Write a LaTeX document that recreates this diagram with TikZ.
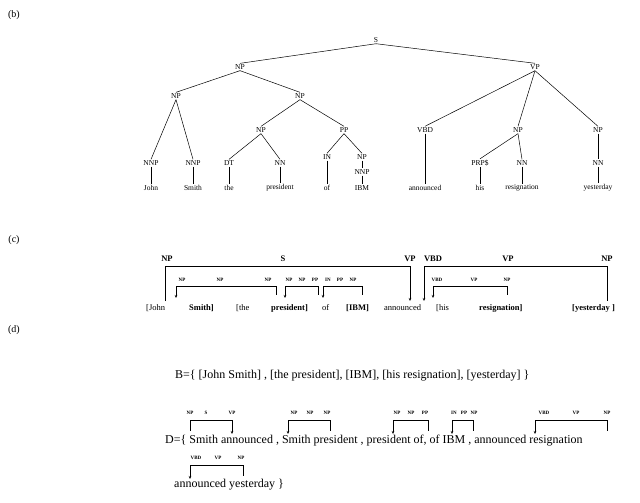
\documentclass[tikz,border=0pt]{standalone}
\usepackage{fontspec}
\setmainfont{Liberation Serif}
\usetikzlibrary{arrows.meta}
\begin{document}
\begin{tikzpicture}[x=1pt,y=-1pt,
  tl/.style={font=\fontsize{7.5}{8}\selectfont,inner sep=1pt},
  wd/.style={font=\fontsize{7.5}{8}\selectfont,inner sep=1pt},
  big/.style={font=\fontsize{8.5}{9}\selectfont\bfseries,inner sep=1pt},
  sm/.style={font=\fontsize{5}{6}\selectfont\bfseries,inner sep=0.5pt},
  txt/.style={font=\fontsize{12}{14}\selectfont,inner sep=0pt,anchor=west},
  ct/.style={font=\fontsize{8.5}{10}\selectfont,inner sep=0pt,anchor=west},
  ln/.style={line width=0.5pt},
  arr/.style={line width=0.5pt,-{Stealth[length=3pt,width=2.5pt]}}]
\useasboundingbox (0,0) rectangle (640,503);
\node[font=\fontsize{10}{12}\selectfont] (lb) at (14,15) {(b)};
\node[font=\fontsize{10}{12}\selectfont] (lc) at (14,240) {(c)};
\node[font=\fontsize{10}{12}\selectfont] (ld) at (14,330) {(d)};
% tree
\node[tl] (S) at (376,40) {S};
\node[tl] (NP1) at (240,67) {NP};
\node[tl] (VP1) at (535,67) {VP};
\node[tl] (NP2) at (176,96) {NP};
\node[tl] (NP3) at (300,96) {NP};
\node[tl] (NNP1) at (151,163) {NNP};
\node[tl] (NNP2) at (193,163) {NNP};
\node[tl] (NP4) at (261,130) {NP};
\node[tl] (PP1) at (344,130) {PP};
\node[tl] (DT) at (229,163) {DT};
\node[tl] (NN1) at (280,163) {NN};
\node[tl] (IN) at (327,157) {IN};
\node[tl] (NP5) at (362,157) {NP};
\node[tl] (NNP3) at (362,172) {NNP};
\node[tl] (VBD) at (425,130) {VBD};
\node[tl] (NP6) at (518,130) {NP};
\node[tl] (NP7) at (598,130) {NP};
\node[tl] (PRP) at (480,163) {PRP\$};
\node[tl] (NN2) at (522,163) {NN};
\node[tl] (NN3) at (598,163) {NN};
\node[wd] (w1) at (151,188) {John};
\node[wd] (w2) at (193,188) {Smith};
\node[wd] (w3) at (229,188) {the};
\node[wd] (w4) at (280,188) {president};
\node[wd] (w5) at (327,188) {of};
\node[wd] (w6) at (362,188) {IBM};
\node[wd] (w7) at (425,188) {announced};
\node[wd] (w8) at (480,188) {his};
\node[wd] (w9) at (522,188) {resignation};
\node[wd] (w10) at (598,188) {yesterday};
\foreach \a/\b in {S/NP1,S/VP1,NP1/NP2,NP1/NP3,NP2/NNP1,NP2/NNP2,NP3/NP4,NP3/PP1,NP4/DT,NP4/NN1,PP1/IN,PP1/NP5,NP5/NNP3,VP1/VBD,VP1/NP6,VP1/NP7,NP6/PRP,NP6/NN2,NP7/NN3,NNP1/w1,NNP2/w2,DT/w3,NN1/w4,IN/w5,NNP3/w6,VBD/w7,PRP/w8,NN2/w9,NN3/w10}
  \draw[ln] (\a.south) -- (\b.north);
% (c)
\node[ct] (c1) at (146,308) {[John};
\node[ct] (c2) at (189,308) {\bfseries Smith]};
\node[ct] (c3) at (236,308) {[the};
\node[ct] (c4) at (271,308) {\bfseries president]};
\node[ct] (c5) at (322,308) {of};
\node[ct] (c6) at (346,308) {\bfseries [IBM]};
\node[ct] (c7) at (384,308) {announced};
\node[ct] (c8) at (436,308) {[his};
\node[ct] (c9) at (479,308) {\bfseries resignation]};
\node[ct] (c10) at (572,308) {\bfseries [yesterday ]};
\node[big] at (167,259) {NP}; \node[big] at (283,259) {S}; \node[big] at (410,259) {VP};
\node[big] at (433,259) {VBD}; \node[big] at (508,259) {VP}; \node[big] at (607,259) {NP};
\draw[ln] (165,301) -- (165,266) -- (410,266); \draw[arr] (410,266) -- (410,301);
\draw[arr] (424,266) -- (424,301); \draw[ln] (424,266) -- (607,266) -- (607,301);
\foreach \l/\r/\y in {176/276/286,285/318/286,323/362/286,433/507/286}{
  \draw[arr] (\l,\y) -- (\l,\y+12); \draw[ln] (\l,\y) -- (\r,\y) -- (\r,\y+9);}
\foreach \x/\t in {182/NP,220/NP,268/NP,289/NP,302/NP,315/PP,328/IN,340/PP,353/NP,437/VBD,474/VP,507/NP}
  \node[sm] at (\x,280) {\t};
% (d)
\node[txt] (B) at (175,376) {B=\{ [John Smith] , [the president], [IBM], [his resignation], [yesterday] \}};
\node[txt] (D) at (165,441) {D=\{ Smith announced , Smith president , president of, of IBM , announced resignation};
\node[txt] (D2) at (174,485) {announced yesterday \}};
\draw[ln] (232,420) -- (190,420) -- (190,431); \draw[arr] (232,420) -- (232,434);
\foreach \l/\r/\y in {288/330/420,393/428/420,452/473/420,535/607/420,190/243/465}{
  \draw[arr] (\l,\y) -- (\l,\y+14); \draw[ln] (\l,\y) -- (\r,\y) -- (\r,\y+11);}
\foreach \x/\t in {190/NP,206/S,232/VP,294/NP,310/NP,327/NP,397/NP,411/NP,425/PP,454/IN,464/PP,474/NP,544/VBD,576/VP,607/NP}
  \node[sm] at (\x,413) {\t};
\foreach \x/\t in {196/VBD,218/VP,241/NP}
  \node[sm] at (\x,458) {\t};
\end{tikzpicture}
\end{document}
